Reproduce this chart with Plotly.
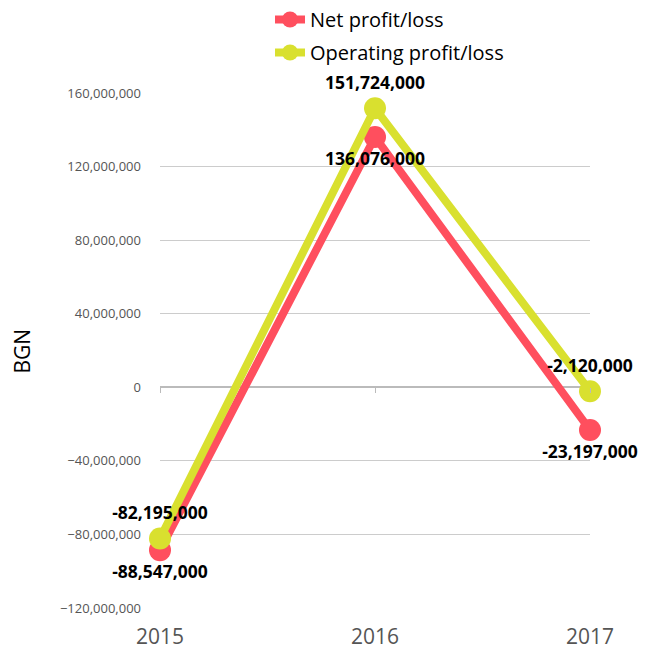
import plotly.graph_objects as go

years = ["2015", "2016", "2017"]
net = [-88547000, 136076000, -23197000]
operating = [-82195000, 151724000, -2120000]
net_label_pos = ["bottom center", "bottom center", "bottom center"]
op_label_pos = ["top center", "top center", "top center"]
y_ticks = [-120000000, -80000000, -40000000, 0, 40000000, 80000000, 120000000, 160000000]
y_range = [-120000000, 160000000]

FONT = "Open Sans"
RED = "#ff4f5e"
YEL = "#d9e02f"

def fmt(v):
    return f"{v:,}"

fig = go.Figure()
# helper trace so the tick-mark axis along the zero line is drawn
fig.add_trace(go.Scatter(x=years, y=[None] * len(years), xaxis="x2", mode="markers",
                         showlegend=False, hoverinfo="skip"))
fig.add_trace(go.Scatter(
    x=years, y=net, name="Net profit/loss", mode="lines+markers",
    line=dict(color=RED, width=8), marker=dict(color=RED, size=22),
    legendgroup="net", cliponaxis=False,
))
fig.add_trace(go.Scatter(
    x=years, y=operating, name="Operating profit/loss", mode="lines+markers",
    line=dict(color=YEL, width=8), marker=dict(color=YEL, size=22),
    legendgroup="op", cliponaxis=False,
))
# data labels drawn above both lines (invisible markers keep the label offset)
fig.add_trace(go.Scatter(
    x=years, y=net, mode="markers+text", showlegend=False, hoverinfo="skip",
    marker=dict(size=22, opacity=0),
    text=[fmt(v) for v in net], textposition=net_label_pos,
    textfont=dict(family=FONT, size=17.5, color="black", weight="bold"),
    cliponaxis=False,
))
fig.add_trace(go.Scatter(
    x=years, y=operating, mode="markers+text", showlegend=False, hoverinfo="skip",
    marker=dict(size=22, opacity=0),
    text=[fmt(v) for v in operating], textposition=op_label_pos,
    textfont=dict(family=FONT, size=17.5, color="black", weight="bold"),
    cliponaxis=False,
))

zero_pos = (0 - y_range[0]) / (y_range[1] - y_range[0])

fig.update_layout(
    width=657, height=650,
    margin=dict(l=160, r=67, t=93, b=42, autoexpand=False),
    plot_bgcolor="white", paper_bgcolor="white",
    font=dict(family=FONT, color="black"),
    showlegend=True,
    legend=dict(xref="container", yref="container", x=0.411, y=1.0,
                xanchor="left", yanchor="top", traceorder="grouped",
                font=dict(family=FONT, size=20, color="black"),
                bgcolor="rgba(0,0,0,0)", tracegroupgap=4),
    xaxis=dict(type="category", range=[0, 2], showgrid=False, showline=False,
               zeroline=False, ticks="", automargin=False,
               tickfont=dict(family=FONT, size=21, color="#555"),
               ticklabelstandoff=14),
    xaxis2=dict(type="category", range=[0, 2], overlaying="x", anchor="free",
                position=zero_pos, showgrid=False, showline=False, zeroline=False,
                ticks="outside", ticklen=5, tickwidth=1, tickcolor="#bbbbbb",
                showticklabels=False, automargin=False, side="bottom"),
    yaxis=dict(range=y_range, tickvals=y_ticks, automargin=False,
               tickformat=",d", showgrid=True, gridcolor="#cccccc", gridwidth=1,
               zeroline=True, zerolinecolor="#bbbbbb", zerolinewidth=2,
               tickfont=dict(family=FONT, size=13, color="#555"),
               ticklabelstandoff=18),
    annotations=[dict(text="BGN", xref="paper", yref="paper", x=-0.321, y=0.5,
                      xanchor="center", yanchor="middle", showarrow=False, textangle=-90,
                      font=dict(family=FONT, size=21, color="black"))],
)

fig.write_html("out.html", config={"displayModeBar": False},
               post_script="document.body.style.margin='0';")
